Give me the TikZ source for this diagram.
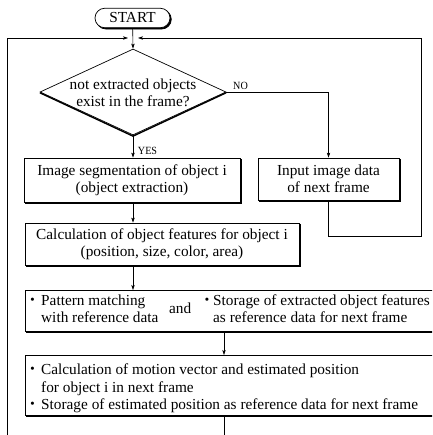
\documentclass[tikz,border=0pt]{standalone}
\usepackage{fontspec}
\setmainfont{Liberation Serif}
\newfontfamily\cjk{Noto Sans CJK JP}
\newfontfamily\labelfont{Liberation Serif}[FakeStretch=0.92]
\usetikzlibrary{shapes.geometric,shapes.misc,arrows.meta}

\begin{document}
\begin{tikzpicture}[x=1pt,y=-1pt,
  every node/.style={font=\fontsize{15.3}{17}\selectfont},
  box/.style={draw, fill=white, line width=0.7pt, inner sep=0pt, align=center},
  term/.style={rounded rectangle, draw, fill=white, line width=0.7pt,
    minimum width=75pt, minimum height=19.5pt, inner sep=0pt},
  decision/.style={diamond, draw, fill=white, line width=0.7pt,
    minimum width=186pt, minimum height=86pt, inner sep=0pt},
  plain/.style={inner sep=0pt, align=center},
  txt/.style={inner sep=0pt, anchor=base west},
  bul/.style={inner sep=0pt, anchor=base, font=\fontsize{15.3}{17}\cjk},
  lab/.style={inner sep=0pt, anchor=base, font=\fontsize{11}{12}\labelfont},
  flow/.style={line width=0.6pt, -{Stealth[length=5pt,width=3.4pt,inset=1.2pt]}},
  wire/.style={line width=0.6pt},
  shade edge/.style={line width=1.4pt, line join=miter}
]
\useasboundingbox (0,0) rectangle (432,435);
\clip (0,0) rectangle (432,435);

% terminal with its offset shadow, and decision
\node[term, fill=black, draw=black] (startsh) at (133.8,19.3) {\phantom{START}};
\node[term] (start) at (132.5,18) {START};
\node[decision] (dec) at (133,92) {};
\node[plain] (dectext) at (133,92.5) {not extracted objects\\exist in the frame?};

% process boxes
\node[box, minimum width=216pt, minimum height=44pt] (seg) at (132,180)
  {Image segmentation of object i\\(object extraction)};
\node[box, minimum width=141pt, minimum height=42pt] (inp) at (328.5,179)
  {Input image data\\of next frame};
\node[box, minimum width=274pt, minimum height=42pt] (feat) at (162,244)
  {Calculation of object features for object i\\(position, size, color, area)};
\node[box, anchor=north west, minimum width=420pt, minimum height=41pt] (pat) at (25,290) {};
\node[box, anchor=north west, minimum width=420pt, minimum height=60pt] (mot) at (25,355) {};

% heavy right and bottom edges (shadow)
\foreach \b in {seg,inp,feat,pat,mot}{
  \draw[shade edge] ([xshift=0.7pt,yshift=-1.2pt]\b.north east)
    -- ([xshift=0.7pt,yshift=-0.7pt]\b.south east)
    -- ([xshift=1.2pt,yshift=-0.7pt]\b.south west);
}
\draw[shade edge] ([xshift=0.3pt,yshift=-0.8pt]dec.west)
  -- ([yshift=-0.8pt]dec.south) -- ([xshift=-0.3pt,yshift=-0.8pt]dec.east);

% text of the matching / storage box
\node[bul] (patb1) at (32.5,305.7) {・};
\node[txt] (pat1) at (41,305.7) {Pattern matching};
\node[txt] (pat2) at (41,322.5) {with reference data};
\node[txt] (and) at (169,313.5) {and};
\node[bul] (patb2) at (207,305.7) {・};
\node[txt] (sto1) at (213,305.7) {Storage of extracted object features};
\node[txt] (sto2) at (213,322.5) {as reference data for next frame};

% text of the motion box
\node[bul] (motb1) at (32.5,374.5) {・};
\node[txt] (mot1) at (41,374.5) {Calculation of motion vector and estimated position};
\node[txt] (mot2) at (41,392) {for object i in next frame};
\node[bul] (motb2) at (32.5,409.5) {・};
\node[txt] (mot3) at (41,409.5) {Storage of estimated position as reference data for next frame};

% branch labels
\node[lab] (no) at (240.5,90) {NO};
\node[lab] (yes) at (147.5,154.5) {YES};

% helper coordinates
\coordinate (col) at (133,0);
\coordinate (col2) at (224,0);
\coordinate (bl) at (7,440);
\coordinate (tl) at (7,38);
\coordinate (jl) at (128,38);
\coordinate (rb) at (421,236);
\coordinate (rt) at (421,38);
\coordinate (jr) at (138,38);
\coordinate (exit) at (224,440);

% main flow
\draw[flow] (start) -- (dec.north);
\draw[flow] (dec.south) -- (col |- seg.north);
\draw[flow] (dec.east) -| (inp.north);
\draw[flow] (col |- seg.south) -- (col |- feat.north);
\draw[flow] (col |- feat.south) -- (col |- pat.north);
\draw[flow] (col2 |- pat.south) -- (col2 |- mot.north);
\draw[wire] (col2 |- mot.south) -- (exit);

% loop-back lines
\draw[flow] (bl) -- (tl) -- (jl);
\draw[flow] (inp.south) |- (rb) -- (rt) -- (jr);
\end{tikzpicture}
\end{document}
